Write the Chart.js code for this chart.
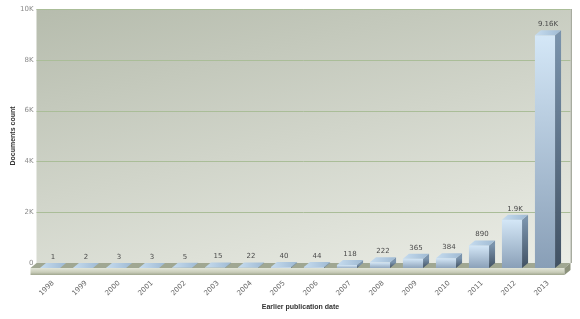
<!DOCTYPE html>
<html>
<head>
<meta charset="utf-8">
<script src="https://cdn.jsdelivr.net/npm/chart.js@4/dist/chart.umd.min.js"></script>
<style>
  html, body { margin: 0; padding: 0; background: #fff; }
  #wrap { width: 580px; height: 319px; }
</style>
</head>
<body>
<div id="wrap"><canvas id="docsChart" width="580" height="319"></canvas></div>
<script>
const years = ['1998', '1999', '2000', '2001', '2002', '2003', '2004', '2005',
               '2006', '2007', '2008', '2009', '2010', '2011', '2012', '2013'];
const counts = [1, 2, 3, 3, 5, 15, 22, 40, 44, 118, 222, 365, 384, 890, 1900, 9160];
const countLabels = ['1', '2', '3', '3', '5', '15', '22', '40', '44', '118', '222',
                     '365', '384', '890', '1.9K', '9.16K'];
const yTickLabels = ['0', '2K', '4K', '6K', '8K', '10K'];

// 3d look: front face is moved down-left, depth goes up-right
const FX = -3, FY = 5;
const DX = 6, DY = 5;

const tickFont = { family: 'DejaVu Sans', size: 7 };
const titleFont = { family: 'Liberation Sans', size: 7, weight: 'bold' };

function frontColor(c) {
    const chart = c.chart;
    if (!chart.chartArea) return '#a8c0d8';
    const ys = chart.scales.y;
    const top = ys.getPixelForValue(c.raw);
    const base = ys.getPixelForValue(0);
    const g = chart.ctx.createLinearGradient(0, top, 0, base + 1);
    g.addColorStop(0, '#d4e7f7');
    g.addColorStop(1, '#889eb6');
    return g;
}

const scene3d = {
    id: 'scene3d',
    beforeDraw(chart) {
        const ctx = chart.ctx, a = chart.chartArea, ys = chart.scales.y;
        const right = a.right + DX;
        ctx.save();
        // back wall, mostly top-to-bottom gradient
        const bg = ctx.createLinearGradient(a.left, a.top, a.left + 91, a.top + 364);
        bg.addColorStop(0, '#b6bcad');
        bg.addColorStop(1, '#ebede6');
        ctx.fillStyle = bg;
        ctx.fillRect(a.left, a.top, right - a.left, a.bottom - a.top);
        // right edge
        ctx.fillStyle = '#a7ab9f';
        ctx.fillRect(right, a.top, 1.5, a.bottom - a.top);
        // grid lines
        ctx.strokeStyle = '#aabd98';
        ctx.lineWidth = 1;
        ys.ticks.forEach(t => {
            if (t.value === 0) return;
            const y = Math.round(ys.getPixelForValue(t.value)) + 0.5;
            ctx.beginPath();
            ctx.moveTo(a.left, y);
            ctx.lineTo(right, y);
            ctx.stroke();
        });
        // floor slab
        const fy = a.bottom;
        const L = a.left, R = right;
        ctx.fillStyle = '#a0a792';
        ctx.beginPath();
        ctx.moveTo(L, fy);
        ctx.lineTo(R, fy);
        ctx.lineTo(R - DX, fy + DY);
        ctx.lineTo(L - DX, fy + DY);
        ctx.closePath();
        ctx.fill();
        const fg = ctx.createLinearGradient(0, fy + DY, 0, fy + DY + 7);
        fg.addColorStop(0, '#e2e5d8');
        fg.addColorStop(0.6, '#c9cdb9');
        fg.addColorStop(1, '#9fa58e');
        ctx.fillStyle = fg;
        ctx.fillRect(L - DX, fy + DY, R - L, 7);
        ctx.fillStyle = '#8c927c';
        ctx.beginPath();
        ctx.moveTo(R - DX, fy + DY);
        ctx.lineTo(R, fy);
        ctx.lineTo(R, fy + 7);
        ctx.lineTo(R - DX, fy + DY + 7);
        ctx.closePath();
        ctx.fill();
        ctx.restore();
    },
    beforeDatasetsDraw(chart) {
        chart.ctx.save();
        chart.ctx.translate(FX, FY);
    },
    afterDatasetsDraw(chart) {
        const ctx = chart.ctx;
        const bars = chart.getDatasetMeta(0).data;
        bars.forEach(b => {
            const l = b.x - b.width / 2, r = b.x + b.width / 2;
            // side face
            const sg = ctx.createLinearGradient(0, b.y, 0, b.base);
            sg.addColorStop(0, '#7a93ac');
            sg.addColorStop(1, '#415163');
            ctx.fillStyle = sg;
            ctx.beginPath();
            ctx.moveTo(r, b.y);
            ctx.lineTo(r + DX, b.y - DY);
            ctx.lineTo(r + DX, b.base - DY);
            ctx.lineTo(r, b.base);
            ctx.closePath();
            ctx.fill();
            // top face
            const tg = ctx.createLinearGradient(l, 0, r + DX, 0);
            tg.addColorStop(0, '#c6dcef');
            tg.addColorStop(1, '#9fbad3');
            ctx.fillStyle = tg;
            ctx.beginPath();
            ctx.moveTo(l, b.y);
            ctx.lineTo(l + DX, b.y - DY);
            ctx.lineTo(r + DX, b.y - DY);
            ctx.lineTo(r, b.y);
            ctx.closePath();
            ctx.fill();
        });
        ctx.restore();
        // value labels
        ctx.save();
        ctx.font = '7px "DejaVu Sans"';
        ctx.fillStyle = '#4a4a4a';
        ctx.textAlign = 'center';
        ctx.textBaseline = 'middle';
        bars.forEach((b, i) => {
            ctx.fillText(countLabels[i], b.x, b.y - 6);
        });
        ctx.restore();
    }
};

new Chart(document.getElementById('docsChart'), {
    type: 'bar',
    data: {
        labels: years,
        datasets: [{
            data: counts,
            backgroundColor: frontColor,
            borderWidth: 0,
            barPercentage: 0.61,
            categoryPercentage: 1,
            clip: false
        }]
    },
    options: {
        responsive: false,
        animation: false,
        events: [],
        layout: { padding: { top: 9, right: 15.5, bottom: 0, left: 0 } },
        plugins: {
            legend: { display: false },
            tooltip: { enabled: false }
        },
        scales: {
            x: {
                grid: { display: false, drawTicks: false },
                border: { display: false },
                ticks: {
                    font: tickFont,
                    color: '#666',
                    minRotation: 45,
                    maxRotation: 45,
                    padding: 16
                },
                title: {
                    display: true,
                    text: 'Earlier publication date',
                    font: titleFont,
                    color: '#333',
                    padding: { top: 0, bottom: 8 }
                },
                afterFit(s) { s.height = 56; }
            },
            y: {
                min: 0,
                max: 10000,
                grid: { display: false, drawTicks: false },
                border: { display: false },
                ticks: {
                    stepSize: 2000,
                    font: tickFont,
                    color: '#8a8a8a',
                    padding: 3,
                    callback: (v, i) => yTickLabels[i]
                },
                title: {
                    display: true,
                    text: 'Documents count',
                    font: titleFont,
                    color: '#333',
                    padding: { top: 9, bottom: 0 }
                },
                afterFit(s) { s.width = 36.5; }
            }
        }
    },
    plugins: [scene3d]
});
</script>
</body>
</html>
